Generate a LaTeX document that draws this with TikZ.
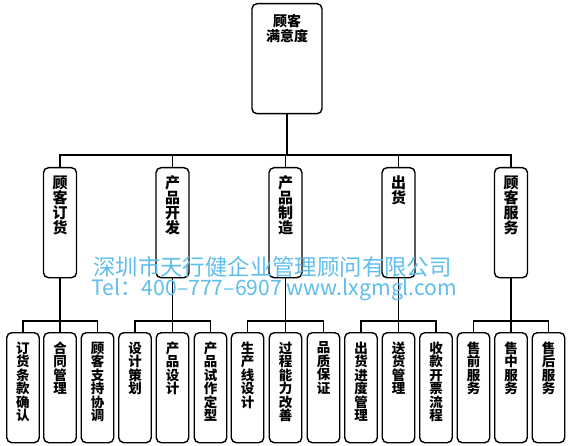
\documentclass[tikz,border=0pt]{standalone}
\usepackage{fontspec}
\newfontfamily\cjk{Noto Sans CJK SC}
\definecolor{wm}{RGB}{95,190,235}
\newcommand\colstack[3]{\parbox[t][104pt][t]{22pt}{\vspace*{#1}\centering\fontsize{#2}{#2}\selectfont #3}}
\tikzset{
  box/.style={draw, line width=1.4pt, rounded corners=5pt, anchor=north, inner sep=0pt, font=\cjk\bfseries},
  topbox/.style={box, minimum width=70pt, minimum height=110pt},
  midbox/.style={box, minimum width=33pt, minimum height=110pt},
  lowbox/.style={box, minimum width=32.5pt, minimum height=110pt},
  conn/.style={line width=1.3pt},
  wmtext/.style={text=wm, font=\cjk}
}
\begin{document}
\begin{tikzpicture}[x=1pt,y=-1pt]
\useasboundingbox (0,0) rectangle (572,446);
\fill[white] (0,0) rectangle (572,446);
% top
\node[topbox] (top) at (287,3) {\parbox[t][104pt][t]{60pt}{\vspace*{8pt}\centering\fontsize{14}{15}\selectfont 顾客\\满意度}};
% middle
\node[midbox] (m1) at (60,167) {\colstack{5pt}{15}{顾\\客\\订\\货}};
\node[midbox] (m2) at (172.5,167) {\colstack{5pt}{15}{产\\品\\开\\发}};
\node[midbox] (m3) at (285.5,167) {\colstack{5pt}{15}{产\\品\\制\\造}};
\node[midbox] (m4) at (398.5,167) {\colstack{5pt}{15}{出\\货}};
\node[midbox] (m5) at (511,167) {\colstack{5pt}{15}{顾\\客\\服\\务}};
% bottom
\node[lowbox] (b1) at (23,332) {\colstack{6pt}{13.5}{订\\货\\条\\款\\确\\认}};
\node[lowbox] (b2) at (60,332) {\colstack{6pt}{13.5}{合\\同\\管\\理}};
\node[lowbox] (b3) at (97.5,332) {\colstack{6pt}{13.5}{顾\\客\\支\\持\\协\\调}};
\node[lowbox] (b4) at (135,332) {\colstack{6pt}{13.5}{设\\计\\策\\划}};
\node[lowbox] (b5) at (172.5,332) {\colstack{6pt}{13.5}{产\\品\\设\\计}};
\node[lowbox] (b6) at (210.5,332) {\colstack{6pt}{13.5}{产\\品\\试\\作\\定\\型}};
\node[lowbox] (b7) at (247.5,332) {\colstack{6pt}{13.5}{生\\产\\线\\设\\计}};
\node[lowbox] (b8) at (285.5,332) {\colstack{6pt}{13.5}{过\\程\\能\\力\\改\\善}};
\node[lowbox] (b9) at (323.5,332) {\colstack{6pt}{13.5}{品\\质\\保\\证}};
\node[lowbox] (b10) at (361,332) {\colstack{6pt}{13.5}{出\\货\\进\\度\\管\\理}};
\node[lowbox] (b11) at (398.5,332) {\colstack{6pt}{13.5}{送\\货\\管\\理}};
\node[lowbox] (b12) at (436,332) {\colstack{6pt}{13.5}{收\\款\\开\\票\\流\\程}};
\node[lowbox] (b13) at (473.5,332) {\colstack{6pt}{13.5}{售\\前\\服\\务}};
\node[lowbox] (b14) at (511,332) {\colstack{6pt}{13.5}{售\\中\\服\\务}};
\node[lowbox] (b15) at (548.5,332) {\colstack{6pt}{13.5}{售\\后\\服\\务}};
% connectors
\coordinate (bus) at (287,155);
\draw[conn] (top.south) -- (bus);
\foreach \m in {m1,m2,m3,m4,m5} { \draw[conn] (bus) -| (\m.north); }
\foreach \m/\a/\b/\c in {m1/b1/b2/b3, m2/b4/b5/b6, m3/b7/b8/b9, m4/b10/b11/b12, m5/b13/b14/b15} {
  \coordinate (g\m) at (\m.south |- 0,321);
  \draw[conn] (\m.south) -- (g\m);
  \draw[conn] (g\m) -| (\a.north);
  \draw[conn] (g\m) -| (\c.north);
  \draw[conn] (g\m) -- (\b.north);
}
% watermark
\node[wmtext, font=\cjk\fontsize{22.4}{24}\selectfont] (wm1) at (272.5,266.5) {深圳市天行健企业管理顾问有限公司};
\node[wmtext, font=\cjk\fontsize{21.2}{23}\selectfont] (wm2) at (274.5,290) {Tel：400–777–6907 www.lxgmgl.com};
\end{tikzpicture}
\end{document}
